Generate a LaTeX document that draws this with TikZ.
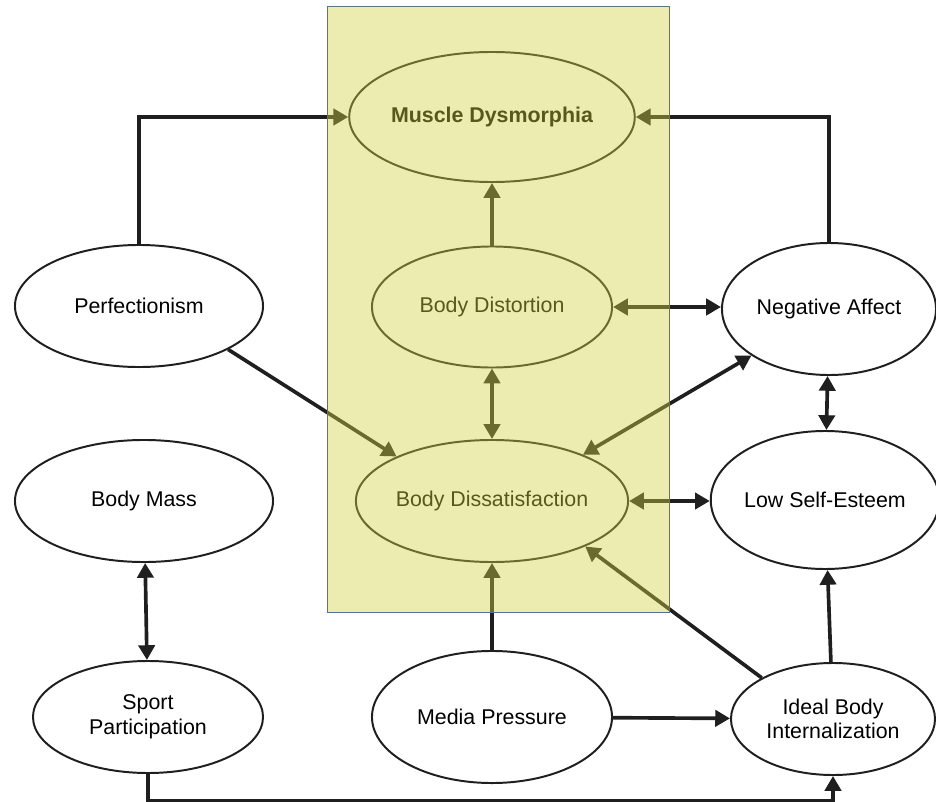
\documentclass[tikz,border=0pt]{standalone}
\usepackage{fontspec}
\setmainfont{Liberation Sans}
\usetikzlibrary{shapes.geometric,arrows.meta}
\definecolor{boxtint}{RGB}{210,210,67}
\definecolor{boxline}{RGB}{68,114,196}

\begin{document}
\begin{tikzpicture}[x=0.025cm,y=-0.025cm]
\tikzstyle{factor}=[draw=black!88,ellipse,fill=white,line width=1.4pt,inner sep=0pt,align=center,font=\fontsize{15.2}{17.5}\selectfont]
\tikzstyle{link}=[draw=black!88,line width=2.6pt,-{Triangle[length=10.5pt,width=11.5pt]}]
\tikzstyle{twoway}=[draw=black!88,line width=2.6pt,{Triangle[length=10.5pt,width=11.5pt]}-{Triangle[length=10.5pt,width=11.5pt]}]

\useasboundingbox (0,0) rectangle (936,802);

% middle column
\node (MD) [factor, minimum width=6.875cm, minimum height=3.25cm, font=\fontsize{15.2}{17.5}\selectfont\bfseries] at (492,117) {Muscle Dysmorphia};
\node (BDist) [factor, minimum width=6cm, minimum height=3.025cm] at (492,307) {Body Distortion};
\node (BDis) [factor, minimum width=6.475cm, minimum height=3.05cm] at (492,501) {Body Dissatisfaction};
\node (MP) [factor, minimum width=6cm, minimum height=3.3cm] at (492,717) {Media Pressure};

% left column
\node (Perf) [factor, minimum width=6.2cm, minimum height=3.05cm] at (139,306) {Perfectionism};
\node (BM) [factor, minimum width=6.45cm, minimum height=3.05cm] at (144,501) {Body Mass};
\node (SP) [factor, minimum width=5.75cm, minimum height=2.8cm] at (148,717) {Sport\\Participation};

% right column
\node (NA) [factor, minimum width=5.35cm, minimum height=3.3cm] at (829,309) {Negative Affect};
\node (LSE) [factor, minimum width=5.6cm, minimum height=3.45cm] at (825,500) {Low Self-Esteem};
\node (IBI) [factor, minimum width=5.1cm, minimum height=2.8cm] at (833,719) {Ideal Body\\Internalization};

\draw [link] (Perf.north) |- (MD.west);
\draw [link] (NA.north) |- (MD.east);
\draw [link] (BDist) -- (MD);
\draw [twoway] (BDist) -- (BDis);
\draw [twoway] (BDist.east) -- (BDist.east -| NA.west);
\draw [twoway] (BDis.east) -- (BDis.east -| LSE.west);
\draw [twoway] (BDis.27) -- (NA.211);
\draw [link] (Perf.-26) -- (BDis.155);
\draw [link] (MP) -- (BDis);
\draw [link] (IBI.150) -- (BDis.-26);
\draw [link] (MP) -- (IBI);
\draw [link] (IBI) -- (LSE);
\draw [twoway] (NA) -- (LSE);
\draw [twoway] (BM) -- (SP);
\draw [link] (SP.south) -- ++(0,27) -| (IBI.south);

% highlighted block
\fill [boxtint, fill opacity=0.42] (327,6) rectangle (669,612);
\draw [boxline, line width=0.6pt] (327,6) rectangle (669,612);

\end{tikzpicture}
\end{document}
